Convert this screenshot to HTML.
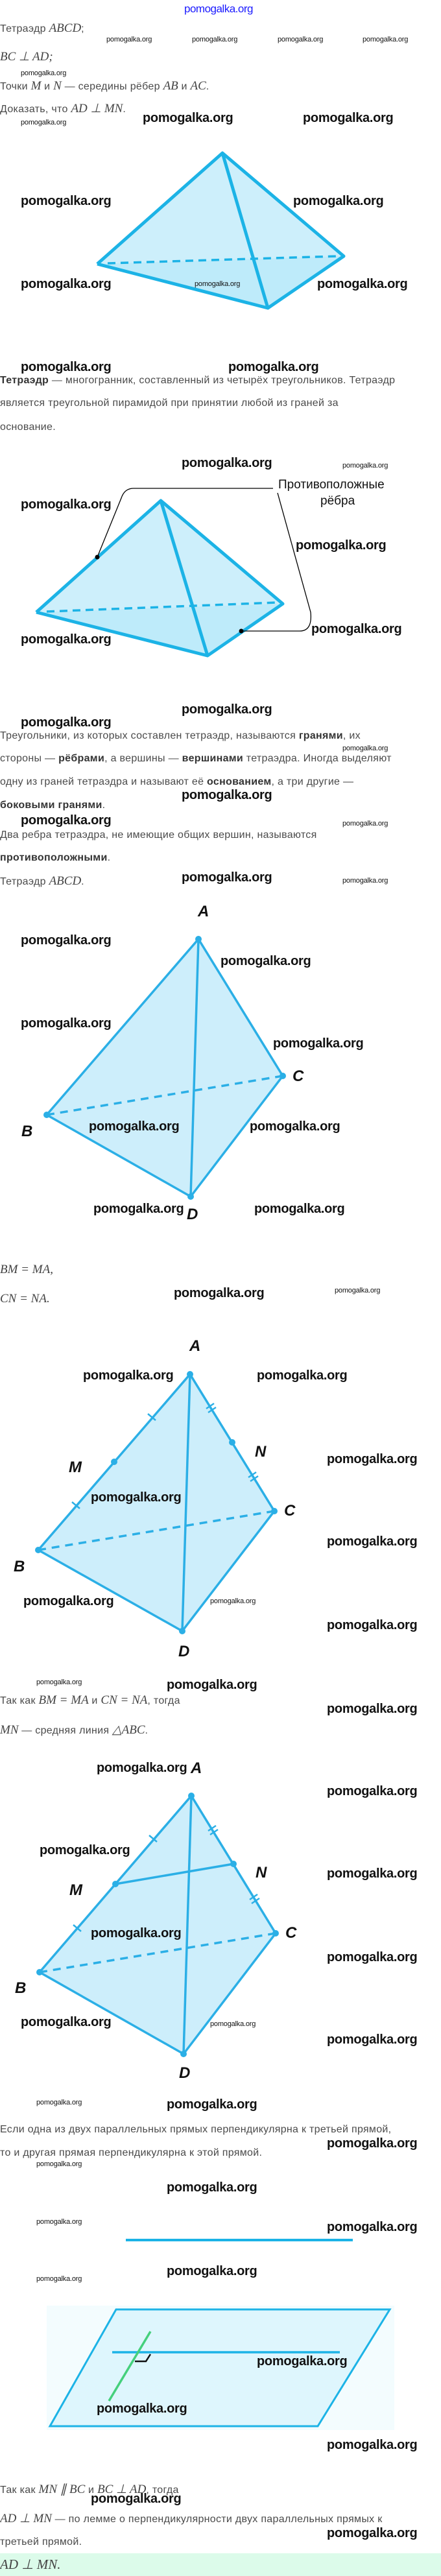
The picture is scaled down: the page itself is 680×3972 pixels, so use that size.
<!DOCTYPE html>
<html><head><meta charset="utf-8">
<style>
html,body{margin:0;padding:0;background:#fff}
body{width:680px;height:3972px;position:relative;overflow:hidden;font-family:"Liberation Sans",sans-serif}
.a{position:absolute;white-space:nowrap;line-height:1}
.t{font-size:16px;color:#4a4a4a;letter-spacing:0.3px}
.t b{color:#333}
.m{font-family:"Liberation Serif",serif;font-style:italic;font-size:19px;color:#444;letter-spacing:0}
.w{font-size:20px;font-weight:bold;color:#111;letter-spacing:-0.3px}
.s{font-size:11px;color:#111;letter-spacing:-0.2px}
.L{font-size:24px;font-weight:bold;font-style:italic;color:#111}
svg{position:absolute;left:0;top:0}
</style></head><body>
<svg width="680" height="3972" viewBox="0 0 680 3972">
<!-- Tetra 1 -->
<polygon points="150,407 343,236 530,395 413,475" fill="#cdeffb"/>
<polygon points="150,407 413,475 530,395" fill="#b4e8fa" opacity="0.6"/>
<g stroke="#1cb3e6" stroke-width="5" fill="none" stroke-linejoin="round">
<polyline points="150,407 343,236 530,395 413,475 150,407"/>
<line x1="343" y1="236" x2="413" y2="475"/>
</g>
<line x1="166" y1="406" x2="520" y2="395" stroke="#1cb3e6" stroke-width="3.5" stroke-dasharray="12,8"/>
<!-- Tetra 2 -->
<polygon points="56,944 248,772 436,931 320,1011" fill="#cdeffb"/>
<polygon points="56,944 320,1011 436,931" fill="#b4e8fa" opacity="0.6"/>
<g stroke="#1cb3e6" stroke-width="5" fill="none" stroke-linejoin="round">
<polyline points="56,944 248,772 436,931 320,1011 56,944"/>
<line x1="248" y1="772" x2="320" y2="1011"/>
</g>
<line x1="72" y1="943" x2="427" y2="929" stroke="#1cb3e6" stroke-width="3.5" stroke-dasharray="12,8"/>
<g stroke="#000" stroke-width="1.3" fill="none">
<path d="M421,753 H206 Q192,753 187,768 L150,859"/>
<path d="M428,760 L479,944 Q482,973 462,973 H372"/>
</g>
<circle cx="150" cy="859" r="3.5"/><circle cx="372" cy="973" r="3.5"/>
<!-- Tetra 3 -->
<polygon points="72,1719 306,1448 436,1659 294,1845" fill="#cdeefb"/>
<g stroke="#2bafe6" stroke-width="3.5" fill="none">
<polyline points="72,1719 306,1448 436,1659 294,1845 72,1719"/>
<line x1="306" y1="1448" x2="294" y2="1845"/>
<line x1="72" y1="1719" x2="436" y2="1659" stroke-dasharray="12,9"/>
</g>
<g fill="#2bafe6"><circle cx="306" cy="1448" r="5"/><circle cx="72" cy="1719" r="5"/><circle cx="436" cy="1659" r="5"/><circle cx="294" cy="1845" r="5"/></g>
<!-- Tetra 4 -->
<polygon points="59,2390 293,2119 423,2330 281,2515" fill="#cdeefb"/>
<g stroke="#2bafe6" stroke-width="3.5" fill="none">
<polyline points="59,2390 293,2119 423,2330 281,2515 59,2390"/>
<line x1="293" y1="2119" x2="281" y2="2515"/>
<line x1="59" y1="2390" x2="423" y2="2330" stroke-dasharray="12,9"/>
<line x1="228" y1="2180" x2="240" y2="2190" stroke-width="2.5"/>
<line x1="111" y1="2316" x2="123" y2="2326" stroke-width="2.5"/>
<line x1="318" y1="2172" x2="330" y2="2164" stroke-width="2.5"/><line x1="321" y1="2178" x2="333" y2="2170" stroke-width="2.5"/>
<line x1="383" y1="2278" x2="395" y2="2270" stroke-width="2.5"/><line x1="386" y1="2284" x2="398" y2="2276" stroke-width="2.5"/>
</g>
<g fill="#2bafe6"><circle cx="293" cy="2119" r="5"/><circle cx="59" cy="2390" r="5"/><circle cx="423" cy="2330" r="5"/><circle cx="281" cy="2515" r="5"/><circle cx="176" cy="2254" r="5"/><circle cx="358" cy="2224" r="5"/></g>
<!-- Tetra 5 -->
<polygon points="61,3041 295,2769 425,2981 283,3167" fill="#cdeefb"/>
<g stroke="#2bafe6" stroke-width="3.5" fill="none">
<polyline points="61,3041 295,2769 425,2981 283,3167 61,3041"/>
<line x1="295" y1="2769" x2="283" y2="3167"/>
<line x1="178" y1="2905" x2="360" y2="2874"/>
<line x1="61" y1="3041" x2="425" y2="2981" stroke-dasharray="12,9"/>
<line x1="230" y1="2830" x2="242" y2="2840" stroke-width="2.5"/>
<line x1="113" y1="2968" x2="125" y2="2978" stroke-width="2.5"/>
<line x1="321" y1="2823" x2="333" y2="2815" stroke-width="2.5"/><line x1="324" y1="2829" x2="336" y2="2821" stroke-width="2.5"/>
<line x1="385" y1="2929" x2="397" y2="2921" stroke-width="2.5"/><line x1="388" y1="2935" x2="400" y2="2927" stroke-width="2.5"/>
</g>
<g fill="#2bafe6"><circle cx="295" cy="2769" r="5"/><circle cx="61" cy="3041" r="5"/><circle cx="425" cy="2981" r="5"/><circle cx="283" cy="3167" r="5"/><circle cx="178" cy="2905" r="5"/><circle cx="360" cy="2874" r="5"/></g>
<!-- lines/plane -->
<line x1="194" y1="3454" x2="544" y2="3454" stroke="#1cb3e6" stroke-width="4"/>
<rect x="72" y="3555" width="536" height="192" fill="#f3fcfe"/>
<polygon points="179,3561 601,3561 490,3741 77,3741" fill="#def6fd" stroke="#1cb3e6" stroke-width="3"/>
<line x1="173" y1="3627" x2="524" y2="3627" stroke="#1cb3e6" stroke-width="3.5"/>
<polyline points="208,3641 225,3641 232,3630" fill="none" stroke="#111" stroke-width="2.5"/>
<line x1="232" y1="3595" x2="168" y2="3702" stroke="#45d07c" stroke-width="3.5"/>
<rect x="0" y="3937" width="680" height="35" fill="#dcfbea"/>
</svg>

<div class="a" style="left:284px;top:5px;font-size:17px;color:#1a1aff;letter-spacing:-0.5px">pomogalka.org</div>
<div class="a t" style="left:0;top:34px">Тетраэдр <span class="m">ABCD</span>;</div>
<div class="a s" style="left:164px;top:56px">pomogalka.org</div>
<div class="a s" style="left:296px;top:56px">pomogalka.org</div>
<div class="a s" style="left:428px;top:56px">pomogalka.org</div>
<div class="a s" style="left:559px;top:56px">pomogalka.org</div>
<div class="a m" style="left:0;top:78px">BC ⊥ AD;</div>
<div class="a s" style="left:32px;top:108px">pomogalka.org</div>
<div class="a t" style="left:0;top:123px">Точки <span class="m">M</span> и <span class="m">N</span> — середины рёбер <span class="m">AB</span> и <span class="m">AC</span>.</div>
<div class="a t" style="left:0;top:158px">Доказать, что <span class="m">AD ⊥ MN</span>.</div>
<div class="a s" style="left:32px;top:184px">pomogalka.org</div>
<div class="a w" style="left:220px;top:172px">pomogalka.org</div>
<div class="a w" style="left:467px;top:172px">pomogalka.org</div>
<div class="a w" style="left:32px;top:300px">pomogalka.org</div>
<div class="a w" style="left:452px;top:300px">pomogalka.org</div>
<div class="a w" style="left:32px;top:428px">pomogalka.org</div>
<div class="a w" style="left:489px;top:428px">pomogalka.org</div>
<div class="a s" style="left:300px;top:433px">pomogalka.org</div>

<div class="a w" style="left:32px;top:556px">pomogalka.org</div>
<div class="a w" style="left:352px;top:556px">pomogalka.org</div>
<div class="a t" style="left:0;top:579px"><b>Тетраэдр</b> — многогранник, составленный из четырёх треугольников. Тетраэдр</div>
<div class="a t" style="left:0;top:614px">является треугольной пирамидой при принятии любой из граней за</div>
<div class="a t" style="left:0;top:651px">основание.</div>
<div class="a w" style="left:280px;top:704px">pomogalka.org</div>
<div class="a s" style="left:528px;top:713px">pomogalka.org</div>
<div class="a" style="left:429px;top:738px;font-size:19px;color:#111">Противоположные</div>
<div class="a" style="left:494px;top:763px;font-size:19px;color:#111">рёбра</div>
<div class="a w" style="left:32px;top:768px">pomogalka.org</div>
<div class="a w" style="left:456px;top:831px">pomogalka.org</div>
<div class="a w" style="left:32px;top:976px">pomogalka.org</div>
<div class="a w" style="left:480px;top:960px">pomogalka.org</div>
<div class="a w" style="left:280px;top:1084px">pomogalka.org</div>

<div class="a w" style="left:32px;top:1104px">pomogalka.org</div>
<div class="a t" style="left:0;top:1127px">Треугольники, из которых составлен тетраэдр, называются <b>гранями</b>, их</div>
<div class="a s" style="left:528px;top:1149px">pomogalka.org</div>
<div class="a t" style="left:0;top:1162px">стороны — <b>рёбрами</b>, а вершины — <b>вершинами</b> тетраэдра. Иногда выделяют</div>
<div class="a t" style="left:0;top:1198px">одну из граней тетраэдра и называют её <b>основанием</b>, а три другие —</div>
<div class="a w" style="left:280px;top:1216px">pomogalka.org</div>
<div class="a t" style="left:0;top:1234px"><b>боковыми гранями</b>.</div>
<div class="a w" style="left:32px;top:1255px">pomogalka.org</div>
<div class="a s" style="left:528px;top:1265px">pomogalka.org</div>
<div class="a t" style="left:0;top:1280px">Два ребра тетраэдра, не имеющие общих вершин, называются</div>
<div class="a t" style="left:0;top:1315px"><b>противоположными</b>.</div>
<div class="a t" style="left:0;top:1349px">Тетраэдр <span class="m">ABCD</span>.</div>
<div class="a w" style="left:280px;top:1343px">pomogalka.org</div>
<div class="a s" style="left:528px;top:1353px">pomogalka.org</div>
<div class="a L" style="left:305px;top:1394px">A</div>
<div class="a L" style="left:33px;top:1733px">B</div>
<div class="a L" style="left:451px;top:1648px">C</div>
<div class="a L" style="left:288px;top:1861px">D</div>
<div class="a w" style="left:32px;top:1440px">pomogalka.org</div>
<div class="a w" style="left:340px;top:1472px">pomogalka.org</div>
<div class="a w" style="left:32px;top:1568px">pomogalka.org</div>
<div class="a w" style="left:421px;top:1599px">pomogalka.org</div>
<div class="a w" style="left:137px;top:1727px">pomogalka.org</div>
<div class="a w" style="left:385px;top:1727px">pomogalka.org</div>
<div class="a w" style="left:144px;top:1854px">pomogalka.org</div>
<div class="a w" style="left:392px;top:1854px">pomogalka.org</div>

<div class="a m" style="left:0;top:1948px">BM = MA,</div>
<div class="a m" style="left:0;top:1993px">CN = NA.</div>
<div class="a w" style="left:268px;top:1984px">pomogalka.org</div>
<div class="a s" style="left:516px;top:1985px">pomogalka.org</div>
<div class="a L" style="left:292px;top:2064px">A</div>
<div class="a L" style="left:21px;top:2404px">B</div>
<div class="a L" style="left:438px;top:2318px">C</div>
<div class="a L" style="left:275px;top:2535px">D</div>
<div class="a L" style="left:106px;top:2251px">M</div>
<div class="a L" style="left:393px;top:2227px">N</div>
<div class="a w" style="left:128px;top:2111px">pomogalka.org</div>
<div class="a w" style="left:396px;top:2111px">pomogalka.org</div>
<div class="a w" style="left:504px;top:2240px">pomogalka.org</div>
<div class="a w" style="left:140px;top:2299px">pomogalka.org</div>
<div class="a w" style="left:504px;top:2367px">pomogalka.org</div>
<div class="a w" style="left:36px;top:2459px">pomogalka.org</div>
<div class="a s" style="left:324px;top:2464px">pomogalka.org</div>
<div class="a w" style="left:504px;top:2496px">pomogalka.org</div>
<div class="a s" style="left:56px;top:2589px">pomogalka.org</div>
<div class="a w" style="left:257px;top:2588px">pomogalka.org</div>
<div class="a t" style="left:0;top:2612px">Так как <span class="m">BM = MA</span> и <span class="m">CN = NA</span>, тогда</div>
<div class="a w" style="left:504px;top:2625px">pomogalka.org</div>

<div class="a t" style="left:0;top:2658px"><span class="m">MN</span> — средняя линия <span class="m">△ABC</span>.</div>
<div class="a L" style="left:294px;top:2715px">A</div>
<div class="a w" style="left:149px;top:2716px">pomogalka.org</div>
<div class="a L" style="left:23px;top:3054px">B</div>
<div class="a L" style="left:440px;top:2969px">C</div>
<div class="a L" style="left:276px;top:3185px">D</div>
<div class="a L" style="left:107px;top:2903px">M</div>
<div class="a L" style="left:394px;top:2876px">N</div>
<div class="a w" style="left:504px;top:2752px">pomogalka.org</div>
<div class="a w" style="left:61px;top:2843px">pomogalka.org</div>
<div class="a w" style="left:504px;top:2879px">pomogalka.org</div>
<div class="a w" style="left:140px;top:2971px">pomogalka.org</div>
<div class="a w" style="left:504px;top:3008px">pomogalka.org</div>
<div class="a w" style="left:32px;top:3108px">pomogalka.org</div>
<div class="a s" style="left:324px;top:3116px">pomogalka.org</div>
<div class="a w" style="left:504px;top:3135px">pomogalka.org</div>
<div class="a s" style="left:56px;top:3237px">pomogalka.org</div>
<div class="a w" style="left:257px;top:3235px">pomogalka.org</div>
<div class="a t" style="left:0;top:3276px">Если одна из двух параллельных прямых перпендикулярна к третьей прямой,</div>
<div class="a w" style="left:504px;top:3295px">pomogalka.org</div>
<div class="a t" style="left:0;top:3312px">то и другая прямая перпендикулярна к этой прямой.</div>
<div class="a s" style="left:56px;top:3332px">pomogalka.org</div>

<div class="a w" style="left:257px;top:3363px">pomogalka.org</div>
<div class="a s" style="left:56px;top:3421px">pomogalka.org</div>
<div class="a w" style="left:504px;top:3424px">pomogalka.org</div>
<div class="a s" style="left:56px;top:3509px">pomogalka.org</div>
<div class="a w" style="left:257px;top:3492px">pomogalka.org</div>
<div class="a w" style="left:396px;top:3631px">pomogalka.org</div>
<div class="a w" style="left:149px;top:3704px">pomogalka.org</div>
<div class="a w" style="left:504px;top:3760px">pomogalka.org</div>
<div class="a t" style="left:0;top:3829px">Так как <span class="m">MN ∥ BC</span> и <span class="m">BC ⊥ AD</span>, тогда</div>
<div class="a w" style="left:140px;top:3843px">pomogalka.org</div>
<div class="a t" style="left:0;top:3874px"><span class="m">AD ⊥ MN</span> — по лемме о перпендикулярности двух параллельных прямых к</div>
<div class="a w" style="left:504px;top:3896px">pomogalka.org</div>
<div class="a t" style="left:0;top:3912px">третьей прямой.</div>
<div class="a m" style="left:0;top:3944px;font-size:21px">AD ⊥ MN.</div>
</body></html>
